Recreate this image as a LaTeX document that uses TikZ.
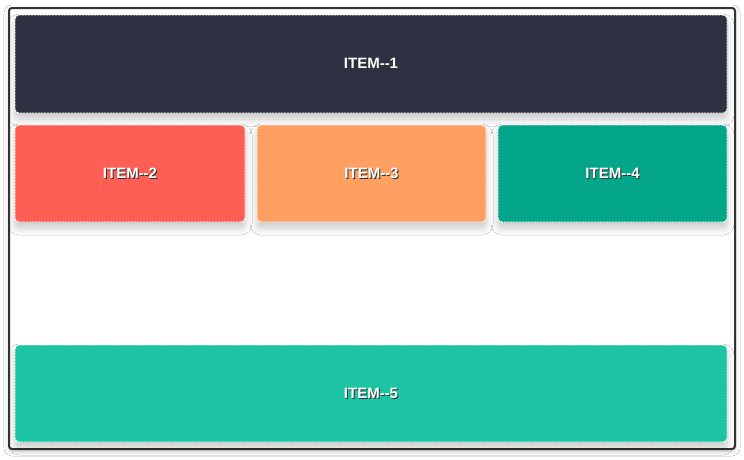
\documentclass[tikz,border=0pt]{standalone}
\usepackage{fontspec}
\setmainfont{Liberation Sans}
\usepackage{tikz}
\usetikzlibrary{shadows.blur}

\definecolor{itemnavy}{HTML}{2D3142}
\definecolor{itemred}{HTML}{FE5F55}
\definecolor{itemorange}{HTML}{FFA062}
\definecolor{itemgreen}{HTML}{03A688}
\definecolor{itemteal}{HTML}{1DC4A3}
\definecolor{framegray}{HTML}{333333}

\newcommand\shadowtext[1]{\rlap{\kern1pt\raisebox{-1pt}{\color{black!80}#1}}#1}

\begin{document}
\begin{tikzpicture}[x=1pt, y=-1pt,
    item/.style={rectangle, rounded corners=4pt, draw=white, line width=0.9pt,
        dash pattern=on 2pt off 1pt, text=white, font=\fontsize{15}{18}\selectfont\bfseries,
        blur shadow={shadow xshift=0pt, shadow yshift=-6pt, shadow blur radius=7pt,
            shadow blur steps=10, shadow opacity=22},
        minimum height=97, inner sep=0pt}]
        \useasboundingbox[fill=white] (0,0) rectangle (744,459);

        % outer frame
        \draw[framegray, line width=2pt, rounded corners=3pt, fill=white,
            blur shadow={shadow xshift=0pt, shadow yshift=-2pt, shadow blur radius=5pt, shadow opacity=18}]
            (9,8) rectangle (735,449);

        \node[item, fill=itemnavy, minimum width=712, minimum height=98] (item1) at (371,64) {\shadowtext{ITEM{-}{-}1}};
        \node[item, fill=itemred, minimum width=230] (item2) at (130,173.5) {\shadowtext{ITEM{-}{-}2}};
        \node[item, fill=itemorange, minimum width=229] (item3) at (371.5,173.5) {\shadowtext{ITEM{-}{-}3}};
        \node[item, fill=itemgreen, minimum width=229] (item4) at (612.5,173.5) {\shadowtext{ITEM{-}{-}4}};
        \node[item, fill=itemteal, minimum width=712] (item5) at (371,393.5) {\shadowtext{ITEM{-}{-}5}};
\end{tikzpicture}
\end{document}
